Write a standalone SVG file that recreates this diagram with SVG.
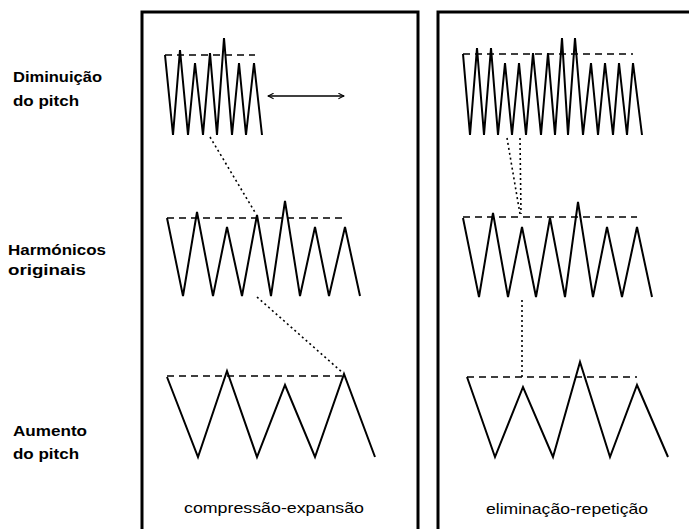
<svg xmlns="http://www.w3.org/2000/svg" width="689" height="529" viewBox="0 0 689 529">
<defs>
<style>
.box{fill:none;stroke:#000;stroke-width:3}
.wave{fill:none;stroke:#000;stroke-width:2;stroke-linejoin:miter}
.base{fill:none;stroke:#000;stroke-width:1.5;stroke-dasharray:7 5}
.dot{fill:none;stroke:#000;stroke-width:1.6;stroke-dasharray:2 3}
.lbl{font-family:"Liberation Sans",Arial,sans-serif;font-weight:bold;font-size:15px;fill:#000}
.cap{font-family:"Liberation Sans",Arial,sans-serif;font-size:15px;fill:#000}
</style>
<marker id="ah" viewBox="0 0 10 10" refX="9" refY="5" markerWidth="7" markerHeight="7" orient="auto-start-reverse" markerUnits="userSpaceOnUse">
<path d="M1,1 L9,5 L1,9" fill="none" stroke="#000" stroke-width="1.5"/>
</marker>
</defs>
<rect width="689" height="529" fill="#fff"/>
<g id="labels">
<text class="lbl" x="13" y="82" textLength="89" lengthAdjust="spacingAndGlyphs">Diminuição</text>
<text class="lbl" x="13" y="106" textLength="66" lengthAdjust="spacingAndGlyphs">do pitch</text>
<text class="lbl" x="8" y="255" textLength="98" lengthAdjust="spacingAndGlyphs">Harmónicos</text>
<text class="lbl" x="8" y="275" textLength="78" lengthAdjust="spacingAndGlyphs">originais</text>
<text class="lbl" x="13" y="436" textLength="74" lengthAdjust="spacingAndGlyphs">Aumento</text>
<text class="lbl" x="13" y="459" textLength="66" lengthAdjust="spacingAndGlyphs">do pitch</text>
</g>
<g id="box-left">
<rect class="box" x="142" y="12" width="276" height="530"/>
<line class="base" x1="165" y1="55" x2="255" y2="55"/>
<polyline class="wave" points="165,55 173,135 180,50 188,135 195,63 203,135 210,53 217,135 224,38 232,135 239,63 246,135 254,63 262,135"/>
<line class="base" x1="167" y1="218" x2="347" y2="218"/>
<polyline class="wave" points="167,218 183,296 197,212 213,296 227,227 242,296 257,215 271,296 285,201 300,296 315,227 329,296 345,227 360,296"/>
<line class="base" x1="167" y1="376" x2="344" y2="376"/>
<polyline class="wave" points="167,377 198,457 227,371 257,457 285,385 315,457 344,374 375,457"/>
<text class="cap" x="184" y="513" textLength="180" lengthAdjust="spacingAndGlyphs">compressão-expansão</text>
</g>
<g id="box-right">
<rect class="box" x="438" y="12" width="270" height="530"/>
<line class="base" x1="463" y1="54" x2="633" y2="54"/>
<polyline class="wave" points="463,54 470,135 477,48 484,135 491,48 498,135 505,63 512,135 519,63 526,135 533,53 541,135 548,53 555,135 562,38 568,135 575,38 583,135 591,63 598,135 605,63 613,135 619,63 627,135 633,63 642,135"/>
<line class="base" x1="463" y1="217" x2="637" y2="217"/>
<polyline class="wave" points="463,218 479,297 493,213 508,297 522,227 536,297 550,218 565,297 578,202 593,297 607,227 622,297 637,227 652,297"/>
<line class="base" x1="467" y1="377" x2="637" y2="377"/>
<polyline class="wave" points="467,377 495,457 523,387 553,457 580,362 610,457 637,385 668,457"/>
<text class="cap" x="486" y="514" textLength="162" lengthAdjust="spacingAndGlyphs">eliminação-repetição</text>
</g>
<g id="connectors">
<line class="dot" x1="210" y1="137" x2="256" y2="214"/>
<line class="dot" x1="257" y1="297" x2="343" y2="373"/>
<line class="dot" x1="507" y1="138" x2="520" y2="214"/>
<line class="dot" x1="520" y1="138" x2="521" y2="214"/>
<line class="dot" x1="522" y1="300" x2="522" y2="377"/>
<line x1="268" y1="96" x2="344" y2="96" stroke="#000" stroke-width="1.5" marker-start="url(#ah)" marker-end="url(#ah)"/>
</g>
</svg>
